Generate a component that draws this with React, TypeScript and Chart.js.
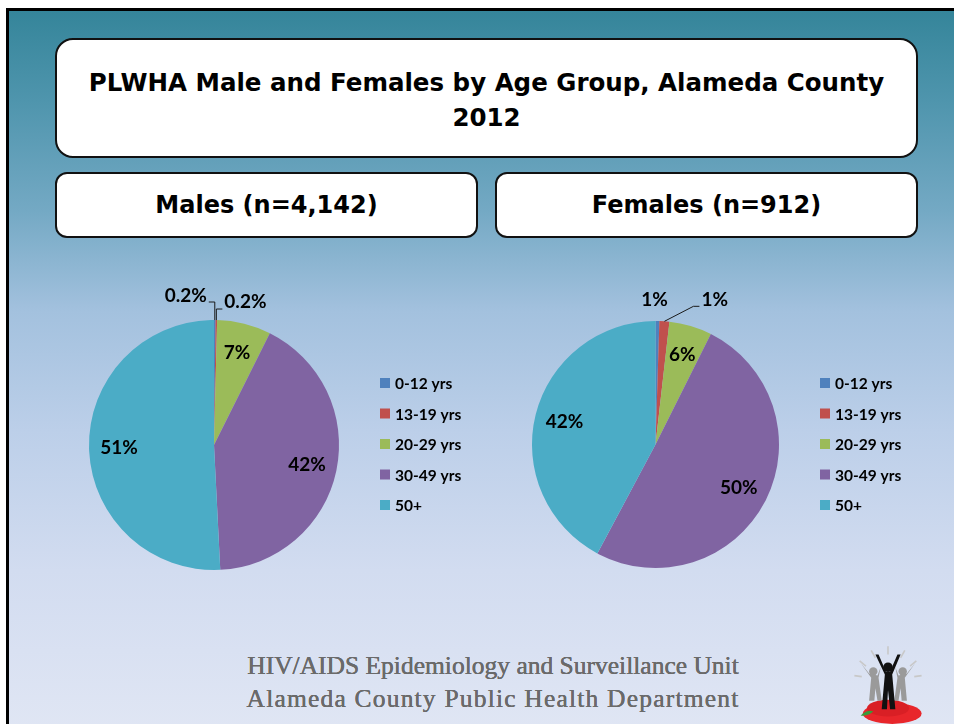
import React, { useEffect, useRef } from "react";
import { Chart, registerables } from "chart.js";

Chart.register(...registerables);

// ---------- data ----------
const ageGroups = ["0-12 yrs", "13-19 yrs", "20-29 yrs", "30-49 yrs", "50+"];
const malePct = [0.2, 0.2, 7, 42, 51];
const femalePct = [0.5, 1.3, 5.6, 50.4, 42.2];
const sliceColors = ["#4F81BD", "#C0504D", "#9BBB59", "#8064A2", "#4BACC6"];

const titleLines = ["PLWHA Male and Females by Age Group, Alameda County", "2012"];
const maleHeading = "Males (n=4,142)";
const femaleHeading = "Females (n=912)";
const footerLines = [
  "HIV/AIDS Epidemiology and Surveillance Unit",
  "Alameda County Public Health Department",
];

// ---------- styles ----------
const fmtPct = (v: number) => (v < 0.5 ? v.toFixed(1) : String(Math.round(v))) + "%";

const maleCallouts = [
  { dx: -8, dy: -24, align: "right", path: [[0, -18], [-6, -18]] },
  { dx: 8, dy: -18, align: "left", path: [[0, -11], [6, -11]] },
];
const femaleCallouts = [
  { dx: -3, dy: -21, align: "center", path: null },
  { dx: 37, dy: -21, align: "left", path: [[29, -15], [35, -15]] },
];

const sliceLabelPlugin = {
  id: "sliceLabels",
  afterDatasetsDraw(chart: any, _args: any, opts: any) {
    const ctx = chart.ctx;
    const meta = chart.getDatasetMeta(0);
    const data = chart.data.datasets[0].data as number[];
    meta.data.forEach((arc: any, i: number) => {
      const p = arc.getProps(["x", "y", "startAngle", "endAngle", "outerRadius"], true);
      const mid = (p.startAngle + p.endAngle) / 2;
      const text = fmtPct(data[i]);
      ctx.save();
      ctx.font = "bold 19px Lato";
      ctx.fillStyle = "#000";
      ctx.textBaseline = "middle";
      const co = opts.callouts && opts.callouts[i];
      if (co) {
        const ax = p.x + Math.cos(mid) * p.outerRadius;
        const ay = p.y + Math.sin(mid) * p.outerRadius;
        if (co.path) {
          ctx.beginPath();
          ctx.moveTo(ax, ay);
          co.path.forEach((pt: number[]) => ctx.lineTo(ax + pt[0], ay + pt[1]));
          ctx.strokeStyle = "#1a1a1a";
          ctx.lineWidth = 1;
          ctx.stroke();
        }
        ctx.textAlign = co.align;
        ctx.fillText(text, ax + co.dx, ay + co.dy);
      } else {
        const r = p.outerRadius * opts.radiusFrac;
        ctx.textAlign = "center";
        ctx.fillText(text, p.x + Math.cos(mid) * r, p.y + Math.sin(mid) * r);
      }
      ctx.restore();
    });
  },
};

const sideLegendPlugin = {
  id: "sideLegend",
  afterDraw(chart: any, _args: any, opts: any) {
    const ctx = chart.ctx;
    const labels = chart.data.labels as string[];
    const colors = chart.data.datasets[0].backgroundColor as string[];
    ctx.save();
    ctx.font = "bold 15.5px Lato";
    ctx.textBaseline = "middle";
    ctx.textAlign = "left";
    labels.forEach((lab, i) => {
      const cy = opts.y + i * opts.step;
      ctx.fillStyle = colors[i];
      ctx.fillRect(opts.x, cy - opts.box / 2, opts.box, opts.box);
      ctx.fillStyle = "#000";
      ctx.fillText(lab, opts.x + opts.box + 5, cy + 1);
    });
    ctx.restore();
  },
};

type PieProps = {
  values: number[];
  callouts: any[];
  left: number;
  top: number;
  padding: { left: number; top: number; right: number; bottom: number };
};

const CANVAS_W = 420;
const CANVAS_H = 330;

function AgePie({ values, callouts, left, top, padding }: PieProps) {
  const ref = useRef<HTMLCanvasElement | null>(null);
  useEffect(() => {
    if (!ref.current) return;
    const chart = new Chart(ref.current, {
      type: "pie",
      data: {
        labels: ageGroups,
        datasets: [
          {
            data: values,
            backgroundColor: sliceColors,
            borderWidth: 0,
            hoverOffset: 0,
          },
        ],
      },
      options: {
        responsive: false,
        animation: false,
        layout: { padding },
        plugins: {
          legend: { display: false },
          tooltip: { enabled: false },
          sliceLabels: { radiusFrac: 0.76, callouts },
          sideLegend: { x: 320, y: 113, step: 30.5, box: 10 },
        } as any,
      },
      plugins: [sliceLabelPlugin, sideLegendPlugin],
    });
    return () => chart.destroy();
  }, []);
  return (
    <canvas
      ref={ref}
      width={CANVAS_W}
      height={CANVAS_H}
      style={{ position: "absolute", left, top, width: CANVAS_W, height: CANVAS_H }}
    />
  );
}

const boxStyle: React.CSSProperties = {
  position: "absolute",
  background: "#fff",
  border: "2.5px solid #111",
  boxSizing: "border-box",
  display: "flex",
  alignItems: "center",
  justifyContent: "center",
  textAlign: "center",
  color: "#000",
  fontFamily: "'DejaVu Sans', sans-serif",
  fontWeight: "bold",
};

function Logo() {
  return (
    <svg
      width={84}
      height={84}
      viewBox="0 0 80 80"
      style={{ position: "absolute", left: 846, top: 642 }}
    >
      <g stroke="#c8c8c8" strokeWidth={1.5}>
        <line x1={40} y1={4} x2={40} y2={12} />
        <line x1={24} y1={8} x2={28} y2={15} />
        <line x1={56} y1={8} x2={52} y2={15} />
        <line x1={13} y1={18} x2={19} y2={23} />
        <line x1={67} y1={18} x2={61} y2={23} />
        <line x1={8} y1={32} x2={15} y2={33} />
        <line x1={72} y1={32} x2={65} y2={33} />
      </g>
      <ellipse cx={44} cy={68} rx={28} ry={10} fill="#e8262b" />
      <ellipse cx={40} cy={63} rx={20} ry={8} fill="#d91f25" />
      <path d="M14 70 q6 -6 12 -4 q-5 5 -12 4z" fill="#3a9a3a" />
      <g fill="#9a9a9a">
        <circle cx={26} cy={28} r={4} />
        <path d="M14 20 L24 34 L22 56 L27 56 L28 44 L30 56 L34 56 L31 34 L33 24 L30 32 L22 30 Z" />
        <circle cx={54} cy={28} r={4} />
        <path d="M66 20 L56 34 L58 56 L53 56 L52 44 L50 56 L46 56 L49 34 L47 24 L50 32 L58 30 Z" />
      </g>
      <g fill="#111">
        <circle cx={40} cy={24} r={4.5} />
        <path d="M28 12 L37 31 L34 64 L39 64 L40 46 L42 64 L47 64 L44 31 L52 12 L49 12 L42 28 L38 28 L31 12 Z" />
      </g>
    </svg>
  );
}

export default function App() {
  return (
    <div
      style={{
        position: "fixed",
        left: 0,
        top: 0,
        width: 954,
        height: 724,
        background: "#fff",
        overflow: "hidden",
      }}
    >
      <div
        style={{
          position: "absolute",
          left: 6,
          top: 8,
          width: 1000,
          height: 760,
          border: "3px solid #000",
          boxSizing: "border-box",
          background:
            "linear-gradient(to bottom, #35859a 0px, #4f95ad 90px, #74a9c4 200px, #a3c1de 300px, #bccfe9 420px, #d2dcf0 560px, #e0e6f4 720px)",
        }}
      />
      <div
        style={{
          ...boxStyle,
          left: 55,
          top: 38,
          width: 863,
          height: 120,
          borderRadius: 18,
          fontSize: 24.5,
          lineHeight: "35px",
          paddingTop: 4,
        }}
      >
        <div>
          {titleLines.map((t) => (
            <div key={t}>{t}</div>
          ))}
        </div>
      </div>
      <div
        style={{
          ...boxStyle,
          left: 55,
          top: 172,
          width: 423,
          height: 66,
          borderRadius: 12,
          fontSize: 24,
        }}
      >
        {maleHeading}
      </div>
      <div
        style={{
          ...boxStyle,
          left: 495,
          top: 172,
          width: 423,
          height: 66,
          borderRadius: 12,
          fontSize: 24,
        }}
      >
        {femaleHeading}
      </div>

      <AgePie
        values={malePct}
        callouts={maleCallouts}
        left={60}
        top={270}
        padding={{ left: 29, top: 50, right: 141, bottom: 30 }}
      />
      <AgePie
        values={femalePct}
        callouts={femaleCallouts}
        left={500}
        top={270}
        padding={{ left: 32, top: 51, right: 141, bottom: 32 }}
      />

      <div
        style={{
          position: "absolute",
          left: 180,
          top: 649,
          width: 626,
          textAlign: "center",
          fontFamily: "'Liberation Serif', serif",
          fontSize: 25.5,
          lineHeight: "33px",
          color: "#6a6a6a",
          textShadow: "0 0 0.6px #6a6a6a, 0 0 0.6px #6a6a6a",
        }}
      >
        <div>{footerLines[0]}</div>
        <div style={{ letterSpacing: 1.2 }}>{footerLines[1]}</div>
      </div>
      <Logo />
    </div>
  );
}
